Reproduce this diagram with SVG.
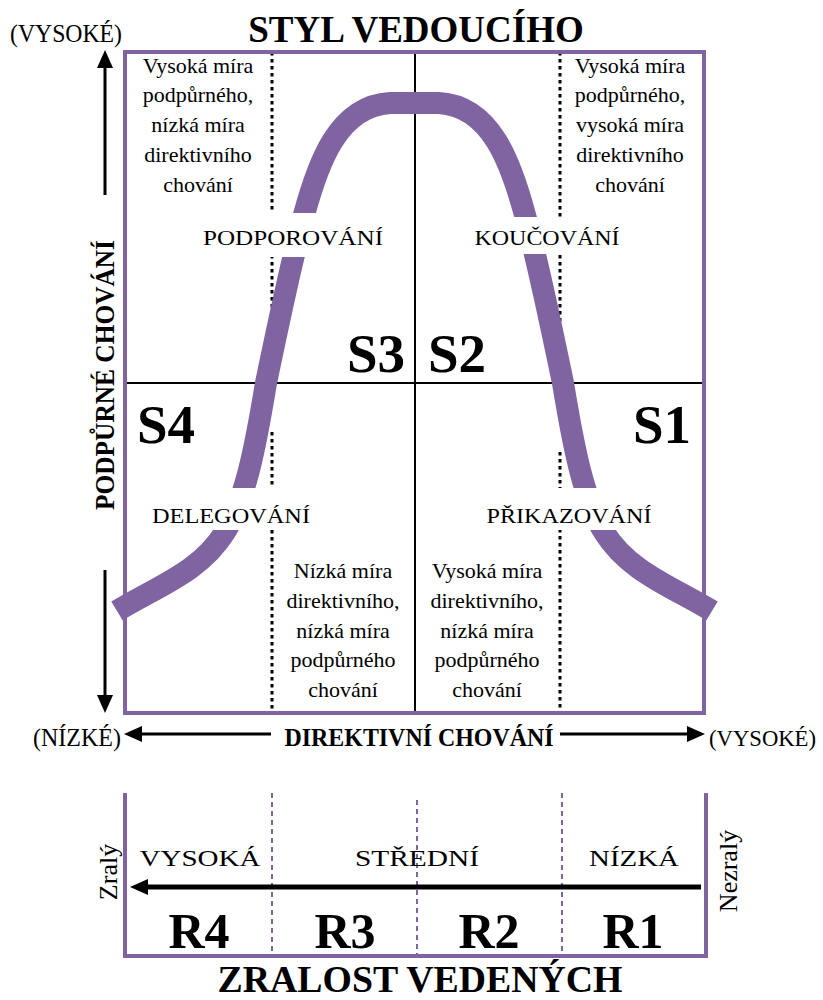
<svg xmlns="http://www.w3.org/2000/svg" width="823" height="1000" viewBox="0 0 823 1000">
<defs>
<style>
text{font-family:"Liberation Serif","Times New Roman",serif;fill:#000}
.b{font-weight:bold}
.q{font-size:22px;text-anchor:middle}
.lab{font-size:22px;text-anchor:middle}
.s{font-size:55px;font-weight:bold;text-anchor:middle}
.r{font-size:50px;font-weight:bold;text-anchor:middle}
.m{text-anchor:middle}
.dot{stroke:#000;stroke-width:3;stroke-dasharray:3.5 3.5;fill:none}
.pdash{stroke:#8064A2;stroke-width:2;stroke-dasharray:5 4;fill:none}
.frame{stroke:#8064A2;stroke-width:4;fill:none}
.ax{stroke:#000;stroke-width:2;fill:none}
.arr{stroke:#000;stroke-width:3;fill:none;marker-end:url(#ah)}
.wb{fill:#fff;stroke:none}
</style>
<marker id="ah" viewBox="0 0 18 16" refX="10" refY="8" markerWidth="18" markerHeight="16" markerUnits="userSpaceOnUse" orient="auto">
<path d="M0,0 L18,8 L0,16 z" fill="#000"/>
</marker>
</defs>
<rect width="823" height="1000" fill="#fff"/>

<g id="grid">
<line class="ax" x1="415" y1="52" x2="415" y2="713"/>
<line class="ax" x1="125" y1="383" x2="704" y2="383"/>
<line class="dot" x1="272" y1="52" x2="272" y2="383"/>
<line class="dot" x1="560" y1="52" x2="560" y2="383"/>
<line class="dot" x1="272" y1="432" x2="272" y2="713"/>
<line class="dot" x1="560" y1="452" x2="560" y2="713"/>
</g>

<g id="curve">
<path d="M117,611 C158,586 200,572 225,532 C245,500 255,450 266,383 C277,330 291,262 304,215 C318,163 338,106 390,103 L439,103 C491,106 511,163 525,215 C538,262 552,330 563,383 C574,450 584,500 604,532 C629,572 671,586 712,611" fill="none" stroke="#8064A2" stroke-width="22"/>
</g>

<rect id="frame" class="frame" x="125" y="52" width="579" height="661"/>

<g id="title">
<text class="b m" x="416" y="42" font-size="37">STYL VEDOUCÍHO</text>
</g>

<g id="q-ul">
<text class="q"><tspan x="198" y="72.5">Vysoká míra</tspan><tspan x="198" y="102">podpůrného,</tspan><tspan x="198" y="132">nízká míra</tspan><tspan x="198" y="162">direktivního</tspan><tspan x="198" y="191.5">chování</tspan></text>
</g>
<g id="q-ur">
<text class="q"><tspan x="630" y="72.5">Vysoká míra</tspan><tspan x="630" y="102">podpůrného,</tspan><tspan x="630" y="132">vysoká míra</tspan><tspan x="630" y="162">direktivního</tspan><tspan x="630" y="191.5">chování</tspan></text>
</g>
<g id="q-ll">
<text class="q"><tspan x="343" y="578">Nízká míra</tspan><tspan x="343" y="608">direktivního,</tspan><tspan x="343" y="638">nízká míra</tspan><tspan x="343" y="667">podpůrného</tspan><tspan x="343" y="697">chování</tspan></text>
</g>
<g id="q-lr">
<text class="q"><tspan x="487" y="578">Vysoká míra</tspan><tspan x="487" y="608">direktivního,</tspan><tspan x="487" y="638">nízká míra</tspan><tspan x="487" y="667">podpůrného</tspan><tspan x="487" y="697">chování</tspan></text>
</g>

<g id="podporovani">
<rect class="wb" x="196" y="213" width="196" height="44"/>
<text class="lab" x="293" y="245" textLength="180" lengthAdjust="spacingAndGlyphs">PODPOROVÁNÍ</text>
</g>
<g id="koucovani">
<rect class="wb" x="462" y="217" width="168" height="37"/>
<text class="lab" x="547" y="245" textLength="145" lengthAdjust="spacingAndGlyphs">KOUČOVÁNÍ</text>
</g>
<g id="delegovani">
<rect class="wb" x="143" y="488" width="176" height="42"/>
<text class="lab" x="231" y="523" textLength="158" lengthAdjust="spacingAndGlyphs">DELEGOVÁNÍ</text>
</g>
<g id="prikazovani">
<rect class="wb" x="478" y="488" width="185" height="42"/>
<text class="lab" x="569" y="523" textLength="165" lengthAdjust="spacingAndGlyphs">PŘIKAZOVÁNÍ</text>
</g>

<g id="s3"><text class="s" x="376" y="372">S3</text></g>
<g id="s2"><text class="s" x="457" y="372">S2</text></g>
<g id="s4"><text class="s" x="166" y="443">S4</text></g>
<g id="s1"><text class="s" x="662" y="443">S1</text></g>

<g id="axes">
<line class="arr" x1="105" y1="195" x2="105" y2="58"/>
<line class="arr" x1="105" y1="570" x2="105" y2="705"/>
<line class="arr" x1="271" y1="734" x2="132" y2="734"/>
<line class="arr" x1="560" y1="734" x2="697" y2="734"/>
<text x="10" y="42" font-size="25" textLength="112" lengthAdjust="spacingAndGlyphs">(VYSOKÉ)</text>
<text class="b m" transform="translate(114,375) rotate(-90)" font-size="27" textLength="270" lengthAdjust="spacingAndGlyphs">PODPŮRNÉ CHOVÁNÍ</text>
<text x="33" y="746" font-size="25" textLength="88" lengthAdjust="spacingAndGlyphs">(NÍZKÉ)</text>
<text class="b m" x="419" y="746" font-size="25" textLength="269" lengthAdjust="spacingAndGlyphs">DIREKTIVNÍ CHOVÁNÍ</text>
<text x="709" y="746" font-size="24" textLength="107" lengthAdjust="spacingAndGlyphs">(VYSOKÉ)</text>
</g>

<g id="maturity">
<path class="frame" d="M125,793 V956 H706 V793"/>
<line class="pdash" x1="272" y1="793" x2="272" y2="956"/>
<line class="pdash" x1="417" y1="800" x2="417" y2="956"/>
<line class="pdash" x1="562" y1="793" x2="562" y2="956"/>
<text class="m" x="200" y="866" font-size="24" textLength="121" lengthAdjust="spacingAndGlyphs">VYSOKÁ</text>
<text class="m" x="417" y="866" font-size="24" textLength="124" lengthAdjust="spacingAndGlyphs">STŘEDNÍ</text>
<text class="m" x="634" y="866" font-size="24" textLength="90" lengthAdjust="spacingAndGlyphs">NÍZKÁ</text>
<line stroke="#000" stroke-width="5" x1="701" y1="887" x2="138" y2="887" marker-end="url(#ah)"/>
<text class="m" transform="translate(117,872) rotate(-90)" font-size="26">Zralý</text>
<text class="m" transform="translate(737,871) rotate(-90)" font-size="26">Nezralý</text>
<text class="r" x="199" y="948">R4</text>
<text class="r" x="345" y="948">R3</text>
<text class="r" x="489" y="948">R2</text>
<text class="r" x="633" y="948">R1</text>
<text class="b m" x="420" y="992" font-size="37" textLength="405" lengthAdjust="spacingAndGlyphs">ZRALOST VEDENÝCH</text>
</g>
</svg>
